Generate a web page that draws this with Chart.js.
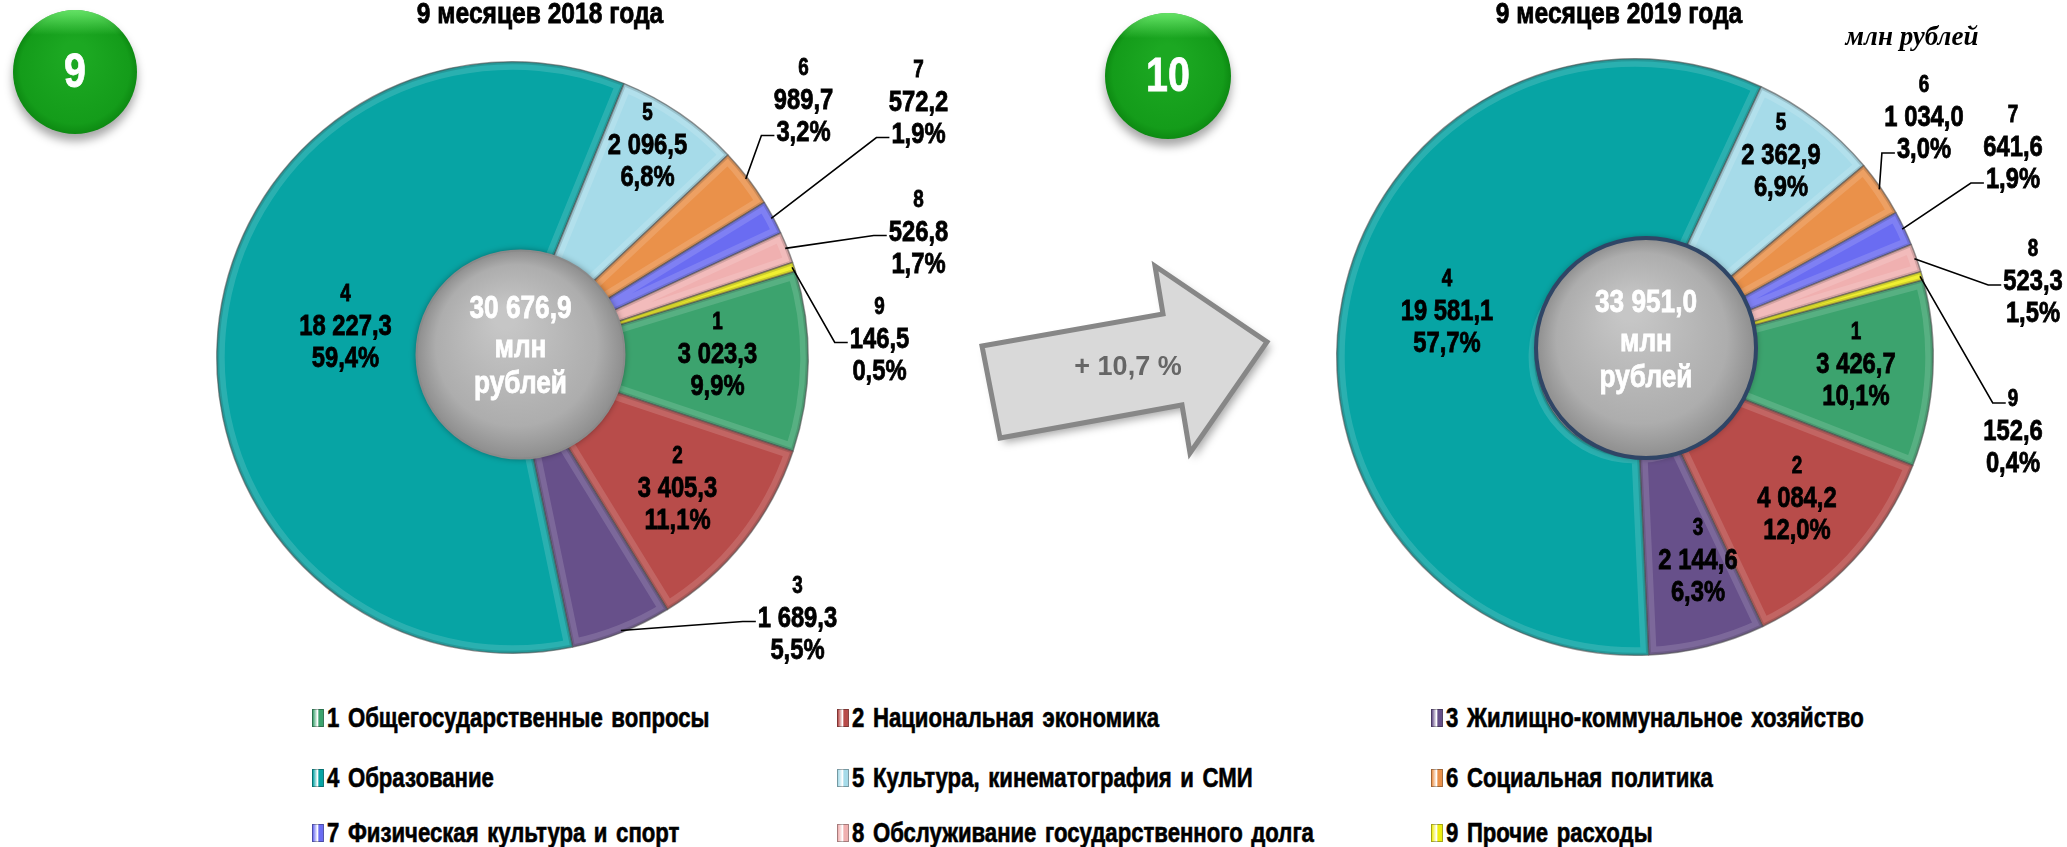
<!DOCTYPE html>
<html lang="ru">
<head>
<meta charset="utf-8">
<title>Расходы за 9 месяцев 2018 и 2019 года</title>
<script src="https://cdn.jsdelivr.net/npm/chart.js"></script>
<style>
  body { margin: 0; width: 2067px; height: 847px; background: #fff; position: relative; overflow: hidden; }
  #left { position: absolute; left: 0; top: 0; }
  #right { position: absolute; left: 1290px; top: 0; }
  .item { position: absolute; height: 30px; display: flex; align-items: center; white-space: nowrap; }
  .box { width: 12px; height: 18px; margin-right: 3px; box-sizing: border-box;
         border: 1px solid rgba(0,0,0,0.3); }
  .txt { display: inline-block; transform: scaleX(0.82); transform-origin: left center;
         font: bold 27px "Liberation Sans", Arial, sans-serif; color: #000;
         -webkit-text-stroke: 0.6px #000; word-spacing: 3px; }
</style>
</head>
<body>
<canvas id="left" width="1290" height="700"></canvas>
<canvas id="right" width="777" height="700"></canvas>
<div id="legend"></div>
<script>
// данные
const categories = ['Общегосударственные вопросы', 'Национальная экономика', 'Жилищно-коммунальное хозяйство',
  'Образование', 'Культура, кинематография и СМИ', 'Социальная политика',
  'Физическая культура и спорт', 'Обслуживание государственного долга', 'Прочие расходы'];
const values2018 = [3023.3, 3405.3, 1689.3, 18227.3, 2096.5, 989.7, 572.2, 526.8, 146.5];
const values2019 = [3426.7, 4084.2, 2144.6, 19581.1, 2362.9, 1034.0, 641.6, 523.3, 152.6];
const shares2018 = [9.9, 11.1, 5.5, 59.4, 6.8, 3.2, 1.9, 1.7, 0.5];
const shares2019 = [10.1, 12.0, 6.3, 57.7, 6.9, 3.0, 1.9, 1.5, 0.4];
const totals = [30676.9, 33951.0];
const periodTitles = ['9 месяцев 2018 года', '9 месяцев 2019 года'];
const growthText = '+ 10,7 %';
const unitText = 'млн рублей';

const sliceColors = ['#3ca36e', '#b84c4a', '#67508a', '#07a4a4', '#a6dbe9', '#ea914a', '#6a6cf2', '#f0b0b0', '#eeee10'];
const SANS = '"Liberation Sans", Arial, sans-serif';

function fmt(v) {
  const p = v.toFixed(1).split('.');
  return p[0].replace(/\B(?=(\d{3})+(?!\d))/g, ' ') + ',' + p[1];
}
function pct(v) { return v.toFixed(1).replace('.', ',') + '%'; }

// узкий жирный шрифт (как Arial Narrow): сжимаем по горизонтали и чуть обводим
function narrow(ctx, text, x, y, size) {
  ctx.save();
  ctx.translate(x, y);
  ctx.scale(0.82, 1);
  ctx.font = 'bold ' + size + 'px ' + SANS;
  ctx.fillText(text, 0, 0);
  ctx.strokeStyle = ctx.fillStyle;
  ctx.lineWidth = 0.8;
  ctx.strokeText(text, 0, 0);
  ctx.restore();
}
function narrowWidth(ctx, text, size) {
  ctx.save();
  ctx.font = 'bold ' + size + 'px ' + SANS;
  const w = ctx.measureText(text).width * 0.82;
  ctx.restore();
  return w;
}

// подписи: смещение от центра круга (средняя строка), lead = строка для выноски
const pos2018 = [
  {dx: 205, dy: -3}, {dx: 165, dy: 131}, {dx: 285, dy: 261, lead: 1}, {dx: -167, dy: -31},
  {dx: 135, dy: -212}, {dx: 291, dy: -257, lead: 2}, {dx: 406, dy: -255, lead: 2},
  {dx: 406, dy: -125, lead: 1}, {dx: 367, dy: -18, lead: 1}
];
const pos2019 = [
  {dx: 221, dy: 8}, {dx: 162, dy: 142}, {dx: 63, dy: 204}, {dx: -188, dy: -45},
  {dx: 146, dy: -201}, {dx: 289, dy: -239, lead: 2}, {dx: 378, dy: -209, lead: 2},
  {dx: 398, dy: -75, lead: 1}, {dx: 378, dy: 75, lead: 0}
];
const LINE = 32;

function pieDecor(values, shares, total, pos, hole) {
  return {
    id: 'pieDecor',
    afterDatasetsDraw(chart) {
      const ctx = chart.ctx;
      const arcs = chart.getDatasetMeta(0).data;
      const cx = arcs[0].x, cy = arcs[0].y, R = arcs[0].outerRadius;
      ctx.save();
      // объём секторов
      arcs.forEach(a => {
        ctx.save();
        ctx.beginPath();
        ctx.arc(cx, cy, a.outerRadius, a.startAngle, a.endAngle);
        ctx.arc(cx, cy, a.innerRadius, a.endAngle, a.startAngle, true);
        ctx.closePath();
        ctx.clip();
        ctx.lineJoin = 'round';
        ctx.lineWidth = 16;
        ctx.strokeStyle = 'rgba(255,255,255,0.14)';
        ctx.stroke();
        ctx.lineWidth = 5;
        ctx.strokeStyle = 'rgba(0,0,0,0.13)';
        ctx.stroke();
        ctx.restore();
      });

      // центр
      const hx = cx + hole.dx, hy = cy + hole.dy, hr = hole.r;
      ctx.shadowColor = 'rgba(0,0,0,0.45)';
      ctx.shadowBlur = 7;
      const g = ctx.createRadialGradient(hx - hr * 0.15, hy - hr * 0.35, hr * 0.1, hx, hy, hr);
      g.addColorStop(0, '#c6c6c6');
      g.addColorStop(0.75, '#adadad');
      g.addColorStop(1, '#8e8e8e');
      ctx.beginPath();
      ctx.arc(hx, hy, hr, 0, Math.PI * 2);
      ctx.fillStyle = g;
      ctx.fill();
      ctx.shadowColor = 'transparent';
      ctx.lineWidth = hole.w;
      ctx.strokeStyle = hole.c;
      ctx.stroke();
      ctx.fillStyle = '#fff';
      ctx.textAlign = 'center';
      ctx.textBaseline = 'middle';
      narrow(ctx, fmt(total), hx, hy - 45, 32);
      narrow(ctx, 'млн', hx, hy - 6, 32);
      narrow(ctx, 'рублей', hx, hy + 30, 32);

      // подписи секторов
      ctx.fillStyle = '#000';
      values.forEach((v, i) => {
        const p = pos[i];
        const x = cx + p.dx, y = cy + p.dy;
        const lines = [String(i + 1), fmt(v), pct(shares[i])];
        const sizes = [23, 29, 29];
        lines.forEach((t, k) => narrow(ctx, t, x, y + (k - 1) * LINE, sizes[k]));
        if (p.lead !== undefined) {
          const a = arcs[i];
          const mid = (a.startAngle + a.endAngle) / 2;
          const sx = cx + Math.cos(mid) * (R - 2), sy = cy + Math.sin(mid) * (R - 2);
          const w = narrowWidth(ctx, lines[p.lead], sizes[p.lead]);
          const ax = x - w / 2 - 2, ly = y + (p.lead - 1) * LINE + 3;
          ctx.strokeStyle = '#000';
          ctx.lineWidth = 1.6;
          ctx.beginPath();
          ctx.moveTo(sx, sy);
          ctx.lineTo(ax - 13, ly);
          ctx.lineTo(ax, ly);
          ctx.stroke();
        }
      });
      ctx.restore();
    }
  };
}

function greenBall(ctx, x, y, r, text) {
  ctx.save();
  ctx.shadowColor = 'rgba(0,0,0,0.35)';
  ctx.shadowBlur = 10;
  ctx.shadowOffsetY = 7;
  const g = ctx.createRadialGradient(x, y - r * 0.3, r * 0.2, x, y, r);
  g.addColorStop(0, '#1ca822');
  g.addColorStop(0.85, '#149c1a');
  g.addColorStop(1, '#0d8a12');
  ctx.beginPath();
  ctx.arc(x, y, r, 0, Math.PI * 2);
  ctx.fillStyle = g;
  ctx.fill();
  ctx.shadowColor = 'transparent';
  const h = ctx.createLinearGradient(0, y - r, 0, y - r * 0.6);
  h.addColorStop(0, 'rgba(130,255,130,0.75)');
  h.addColorStop(1, 'rgba(130,255,130,0)');
  ctx.fillStyle = h;
  ctx.fill();
  ctx.fillStyle = '#fff';
  ctx.textAlign = 'center';
  ctx.textBaseline = 'middle';
  narrow(ctx, text, x, y + 2, 48);
  ctx.restore();
}

const leftPage = {
  id: 'leftPage',
  afterDraw(chart) {
    const ctx = chart.ctx;
    ctx.save();
    ctx.fillStyle = '#000';
    ctx.textAlign = 'center';
    ctx.textBaseline = 'middle';
    narrow(ctx, periodTitles[0], 540, 15, 30);
    greenBall(ctx, 75, 72, 62, '9');
    greenBall(ctx, 1168, 76, 63, '10');
    // стрелка
    const pts = [[982, 346], [1163, 314], [1155, 266], [1267, 342], [1190, 453], [1182, 405], [1000, 438]];
    ctx.beginPath();
    pts.forEach((p, k) => k ? ctx.lineTo(p[0], p[1]) : ctx.moveTo(p[0], p[1]));
    ctx.closePath();
    ctx.shadowColor = 'rgba(0,0,0,0.35)';
    ctx.shadowBlur = 8;
    ctx.shadowOffsetX = 4;
    ctx.shadowOffsetY = 5;
    ctx.fillStyle = '#d9d9d9';
    ctx.fill();
    ctx.shadowColor = 'transparent';
    ctx.lineWidth = 5;
    ctx.strokeStyle = '#878787';
    ctx.stroke();
    ctx.fillStyle = '#666';
    ctx.font = 'bold 27px ' + SANS;
    ctx.fillText(growthText, 1128, 368);
    ctx.restore();
  }
};

const rightPage = {
  id: 'rightPage',
  afterDraw(chart) {
    const ctx = chart.ctx;
    ctx.save();
    ctx.fillStyle = '#000';
    ctx.textAlign = 'center';
    ctx.textBaseline = 'middle';
    narrow(ctx, periodTitles[1], 1619 - 1290, 15, 30);
    ctx.font = 'italic bold 27px "Liberation Serif", "Times New Roman", serif';
    ctx.fillText(unitText, 1912 - 1290, 38);
    ctx.restore();
  }
};

function makePie(id, values, rotation, cutout, pad, plugins) {
  return new Chart(document.getElementById(id), {
    type: 'doughnut',
    data: {
      labels: categories,
      datasets: [{
        data: values,
        backgroundColor: sliceColors,
        borderColor: 'rgba(60,60,60,0.55)',
        borderWidth: 1.5
      }]
    },
    options: {
      responsive: false,
      animation: false,
      devicePixelRatio: 1,
      rotation: rotation,
      cutout: cutout,
      layout: { padding: pad },
      plugins: { legend: { display: false }, tooltip: { enabled: false } }
    },
    plugins: plugins
  });
}

makePie('left', values2018, 73, '30%', {left: 216, top: 61, right: 481, bottom: 46},
  [pieDecor(values2018, shares2018, totals[0], pos2018, {dx: 8, dy: -3, r: 104, w: 2, c: '#8a8a8a'}), leftPage]);
makePie('right', values2019, 75, '33%', {left: 46, top: 58, right: 133, bottom: 44},
  [pieDecor(values2019, shares2019, totals[1], pos2019, {dx: 11, dy: -9, r: 110, w: 4, c: '#2f4566'}), rightPage]);

// легенда
const legendX = [312, 837, 1431];
const legendY = [718, 778, 833];
const legend = document.getElementById('legend');
categories.forEach((name, i) => {
  const el = document.createElement('div');
  el.className = 'item';
  el.style.left = legendX[i % 3] + 'px';
  el.style.top = (legendY[Math.floor(i / 3)] - 15) + 'px';
  const c = sliceColors[i];
  el.innerHTML = '<span class="box" style="background:linear-gradient(90deg,' + c + ',#fff 45%,' + c + ' 60%,' + c + ')"></span>' +
    '<span class="txt">' + (i + 1) + ' ' + name + '</span>';
  legend.appendChild(el);
});
</script>
</body>
</html>
